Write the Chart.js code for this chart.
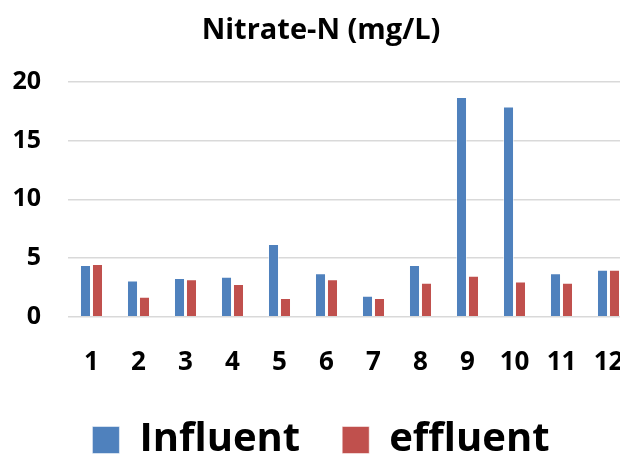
<!DOCTYPE html>
<html lang="en">
  <head>
    <meta charset="UTF-8" />
    <title>Nitrate-N (mg/L)</title>
    <script src="https://cdn.jsdelivr.net/npm/chart.js"></script>
    <style>
      html, body { margin: 0; padding: 0; background: #fff; overflow: hidden; }
      #wrap { width: 620px; height: 460px; overflow: hidden; }
    </style>
  </head>
  <body>
    <div id="wrap">
      <!-- the original picture is a crop of a slightly wider chart -->
      <canvas id="nitrateChart" width="640" height="460"></canvas>
    </div>

    <script>
      // Data
      const samples = ["1", "2", "3", "4", "5", "6", "7", "8", "9", "10", "11", "12"];
      const influent = [4.4, 3.1, 3.3, 3.4, 6.2, 3.7, 1.8, 4.4, 18.7, 17.9, 3.7, 4.0];
      const effluent = [4.5, 1.7, 3.2, 2.8, 1.6, 3.2, 1.6, 2.9, 3.5, 3.0, 2.9, 4.0];
      const yTicks = [0, 5, 10, 15, 20];

      const font = "'Open Sans', Lato, sans-serif";

      const ctx = document.getElementById("nitrateChart").getContext("2d");

      const nitrateChart = new Chart(ctx, {
        type: "bar",
        data: {
          labels: samples,
          datasets: [
            {
              label: "Influent",
              data: influent,
              backgroundColor: "#4f81bd",
              borderColor: "rgba(255,255,255,0.5)",
              borderWidth: 1,
              categoryPercentage: 0.51,
              barPercentage: 0.92,
            },
            {
              label: "effluent",
              data: effluent,
              backgroundColor: "#c0504d",
              borderColor: "rgba(255,255,255,0.5)",
              borderWidth: 1,
              categoryPercentage: 0.51,
              barPercentage: 0.92,
            },
          ],
        },
        options: {
          responsive: false,
          animation: false,
          layout: { padding: { left: 10, right: 8, top: 9, bottom: -10 } },
          plugins: {
            title: {
              display: true,
              text: "Nitrate-N (mg/L)",
              color: "#000",
              font: { family: font, size: 29, weight: "bold" },
              padding: { top: 4, bottom: 34 },
            },
            legend: {
              position: "bottom",
              labels: {
                color: "#000",
                font: { family: font, size: 40, weight: "bold" },
                boxWidth: 27,
                boxHeight: 27,
                padding: 42,
              },
            },
            tooltip: { enabled: false },
          },
          scales: {
            x: {
              grid: { display: false, drawTicks: false },
              border: { display: false },
              ticks: {
                color: "#000",
                font: { family: font, size: 26, weight: "bold" },
                padding: 30,
              },
              // tick padding is counted twice in the axis height; take the extra back
              afterFit: (axis) => {
                axis.height -= 30;
                axis.paddingLeft = 0;
                axis.paddingRight = 0;
              },
            },
            y: {
              min: 0,
              max: 20,
              afterBuildTicks: (axis) => {
                axis.ticks = yTicks.map((v) => ({ value: v }));
              },
              afterFit: (axis) => {
                axis.width = 58;
              },
              grid: { color: "#d9d9d9", lineWidth: 1.6, drawTicks: false },
              border: { display: false },
              ticks: {
                color: "#000",
                font: { family: font, size: 25, weight: "bold" },
                padding: 27,
              },
            },
          },
        },
      });
    </script>
  </body>
</html>
